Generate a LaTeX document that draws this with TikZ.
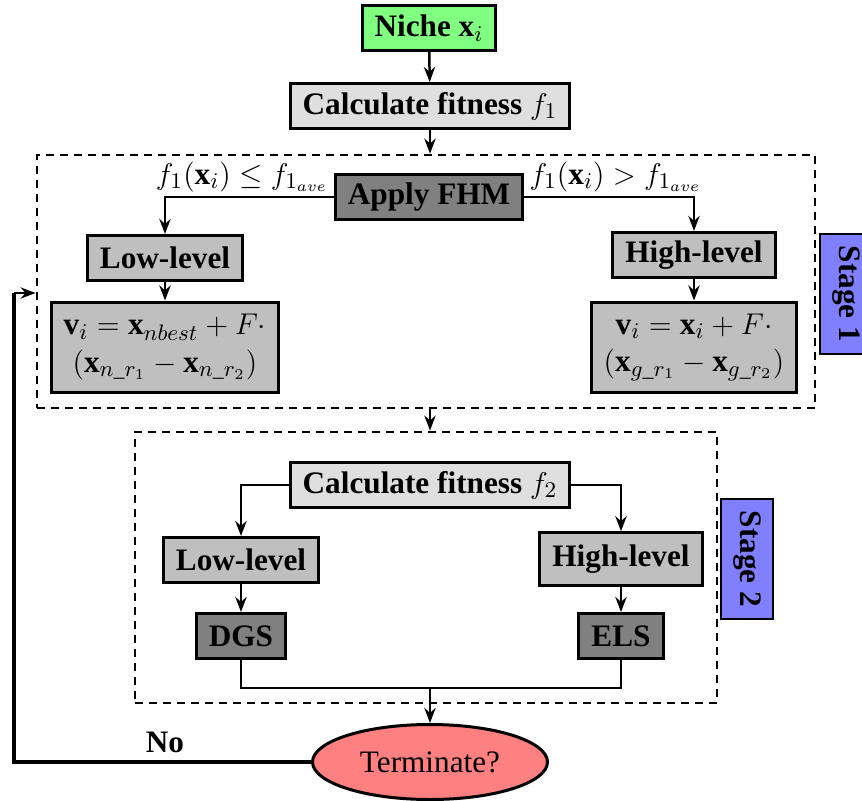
\documentclass[tikz,border=0pt]{standalone}
\usepackage{fontspec}
\setmainfont{Liberation Serif}
\usepackage{amsmath}
\usetikzlibrary{calc, positioning, arrows.meta, shapes.geometric}

\begin{document}
\begin{tikzpicture}[x=0.4pt, y=-0.4pt,
    box/.style={rectangle, draw=black, very thick, fill=gray!50,
                inner xsep=5pt, inner ysep=2pt, minimum height=18pt,
                align=center, font=\fontsize{12.5}{15}\selectfont\bfseries},
    lbox/.style={box, fill=gray!25},
    dbox/.style={box, fill=gray},
    gbox/.style={box, fill=green!50},
    fbox/.style={box, font=\fontsize{12.5}{15}\selectfont,
                minimum height=36pt, inner ysep=1pt},
    stagebox/.style={rectangle, draw=black, thick, fill=blue!50, rotate=-90,
                minimum width=48pt, minimum height=21pt,
                font=\fontsize{12.5}{15}\selectfont\bfseries},
    frame/.style={rectangle, draw=black, line width=1.1pt,
                dash pattern=on 3.2pt off 2.4pt},
    term/.style={ellipse, draw=black, very thick, fill=red!50,
                minimum width=94pt, minimum height=30pt, inner sep=0pt,
                font=\fontsize{12.5}{15}\selectfont},
    cond/.style={font=\fontsize{12.5}{15}\selectfont, inner sep=2pt},
    arr/.style={-{Stealth[length=6pt, width=4.5pt]}, line width=1pt},
    lin/.style={line width=1pt}]

  \useasboundingbox (0,0) rectangle (862,801);

  %--- Inicio ---
  \node[gbox] (niche) at (429, 28)  {Niche $\mathbf{x}_i$};
  \node[lbox] (calc1) at (430, 106) {Calculate fitness $f_1$};
  \draw[arr] (niche) -- (calc1);

  %--- Stage 1 ---
  \node[frame, minimum width=311.2pt, minimum height=101.2pt] (stageA) at (426, 281.5) {};
  \node[stagebox] (lab1) at (846, 294) {Stage 1};
  \draw[arr] (calc1.south) -- (calc1.south |- stageA.north);

  \node[dbox] (fhm)   at (429, 197) {Apply FHM};
  \node[box]  (low1)  at (165, 258) {Low-level};
  \node[box]  (high1) at (694, 255) {High-level};
  \node[fbox] (form1) at (165, 347)
    {$\mathbf{v}_i=\mathbf{x}_{nbest}+F\cdot$\\$(\mathbf{x}_{n\_r_1}-\mathbf{x}_{n\_r_2})$};
  \node[fbox] (form2) at (694, 347)
    {$\mathbf{v}_i=\mathbf{x}_i+F\cdot$\\$(\mathbf{x}_{g\_r_1}-\mathbf{x}_{g\_r_2})$};

  \draw[arr] (fhm.west) -| (low1.north);
  \draw[arr] (fhm.east) -| (high1.north);
  \node[cond, anchor=south east] (c1) at (fhm.west) {$f_1(\mathbf{x}_i)\leq f_{1_{ave}}$};
  \node[cond, anchor=south west] (c2) at (fhm.east) {$f_1(\mathbf{x}_i)> f_{1_{ave}}$};
  \draw[arr] (low1)  -- (form1);
  \draw[arr] (high1) -- (form2);

  %--- Stage 2 ---
  \node[frame, minimum width=232.8pt, minimum height=108.4pt] (stageB) at (426, 567.5) {};
  \node[stagebox] (lab2) at (747, 559) {Stage 2};
  \draw[arr] (stageA.south -| calc1.south) -- (stageB.north -| calc1.south);

  \node[lbox] (calc2) at (430, 485) {Calculate fitness $f_2$};
  \node[box]  (low2)  at (241, 560) {Low-level};
  \node[box, minimum height=21pt] (high2) at (621, 559) {High-level};
  \node[dbox] (dgs)   at (241, 636) {DGS};
  \node[dbox] (els)   at (621, 636) {ELS};

  \draw[arr] (calc2.west) -| (low2.north);
  \draw[arr] (calc2.east) -| (high2.north);
  \draw[arr] (low2)  -- (dgs);
  \draw[arr] (high2) -- (els);

  %--- Terminación ---
  \node[term] (stop) at (430, 762) {Terminate?};
  \coordinate (join) at (430, 688);
  \draw[lin] (dgs.south) |- (join) -| (els.south);
  \draw[arr] (join) -- (stop.north);

  \coordinate (back) at (14, 293);
  \draw[line width=1.6pt] (stop.west) -| (back);
  \draw[arr] (back) -- (back -| stageA.west);
  \node[font=\fontsize{12.5}{15}\selectfont\bfseries, anchor=south] (no) at (165, 762) {No};
\end{tikzpicture}
\end{document}
